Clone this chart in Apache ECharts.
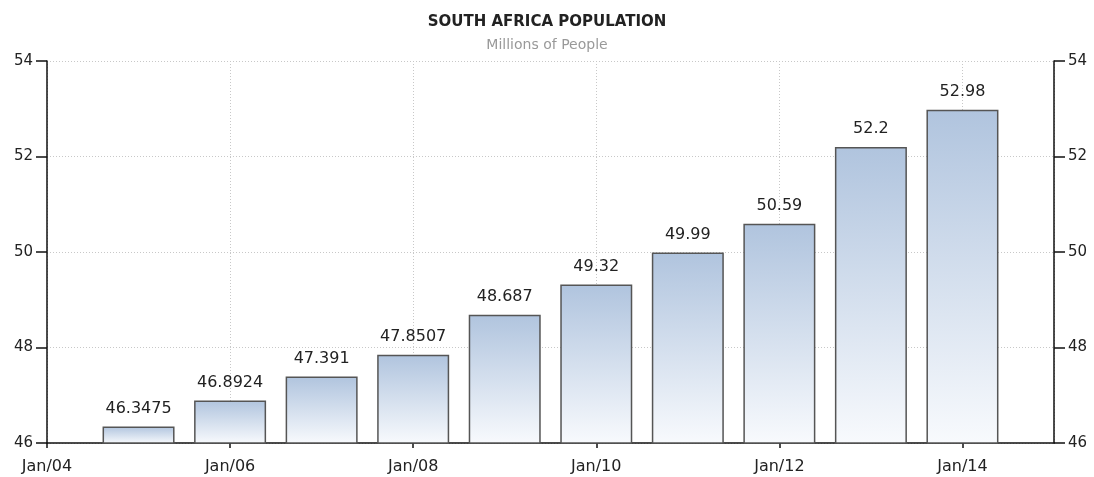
<!DOCTYPE html>
<html>
<head>
<meta charset="utf-8">
<script src="https://cdn.jsdelivr.net/npm/echarts@6/dist/echarts.min.js"></script>
<style>
  html, body { margin: 0; padding: 0; background: #fff; }
  #chart { width: 1094px; height: 477px; }
</style>
</head>
<body>
<div id="chart"></div>
<script>
// bars sit on January of each year
const years = [2005, 2006, 2007, 2008, 2009, 2010, 2011, 2012, 2013, 2014];
const population = [46.3475, 46.8924, 47.391, 47.8507, 48.687, 49.32, 49.99, 50.59, 52.2, 52.98];
const labels = ['46.3475', '46.8924', '47.391', '47.8507', '48.687', '49.32', '49.99', '50.59', '52.2', '52.98'];

const font = 'Verdana, "DejaVu Sans", sans-serif';
const gridLine = { show: true, lineStyle: { color: '#c8c8c8', type: [1, 2], width: 1 } };

let myChart = echarts.init(document.getElementById('chart'));

const yAxisBase = {
  type: 'value',
  min: 46,
  max: 54,
  interval: 2,
  axisLine: { show: true, lineStyle: { color: '#111', width: 1.5 } },
  axisTick: { show: true, length: 11, lineStyle: { color: '#111', width: 1.5 } },
  axisLabel: { color: '#222', fontFamily: font, fontSize: 15, margin: 14 }
};

myChart.setOption({
  animation: false,
  title: {
    text: 'SOUTH AFRICA POPULATION',
    subtext: 'Millions of People',
    left: 'center',
    top: 10,
    itemGap: 8,
    textStyle: { fontFamily: font, fontSize: 15, fontWeight: 'bold', color: '#222' },
    subtextStyle: { fontFamily: font, fontSize: 14, color: '#999' }
  },
  grid: { left: 47, right: 40, top: 61, bottom: 34 },
  xAxis: {
    type: 'value',
    min: 2004,
    max: 2015,
    interval: 2,
    axisLine: { show: true, onZero: false, lineStyle: { color: '#111', width: 1.5 } },
    axisTick: { show: true, length: 5, lineStyle: { color: '#111', width: 1.5 } },
    axisLabel: {
      color: '#222',
      fontFamily: font,
      fontSize: 16,
      margin: 16,
      showMaxLabel: false,
      formatter: v => (v % 2 === 0 ? 'Jan/' + String(v).slice(2) : '')
    },
    splitLine: gridLine
  },
  yAxis: [
    Object.assign({}, yAxisBase, { position: 'left', splitLine: gridLine }),
    Object.assign({}, yAxisBase, { position: 'right', splitLine: { show: false } })
  ],
  series: [{
    type: 'bar',
    barWidth: 72,
    data: years.map((y, i) => [y, population[i]]),
    itemStyle: {
      color: new echarts.graphic.LinearGradient(0, 0, 0, 1, [
        { offset: 0, color: '#b0c4de' },
        { offset: 1, color: '#f8fafd' }
      ]),
      borderColor: '#555',
      borderWidth: 1.5
    },
    label: {
      show: true,
      position: 'top',
      distance: 10,
      color: '#222',
      fontFamily: font,
      fontSize: 16,
      formatter: p => labels[p.dataIndex]
    }
  }]
});
</script>
</body>
</html>
